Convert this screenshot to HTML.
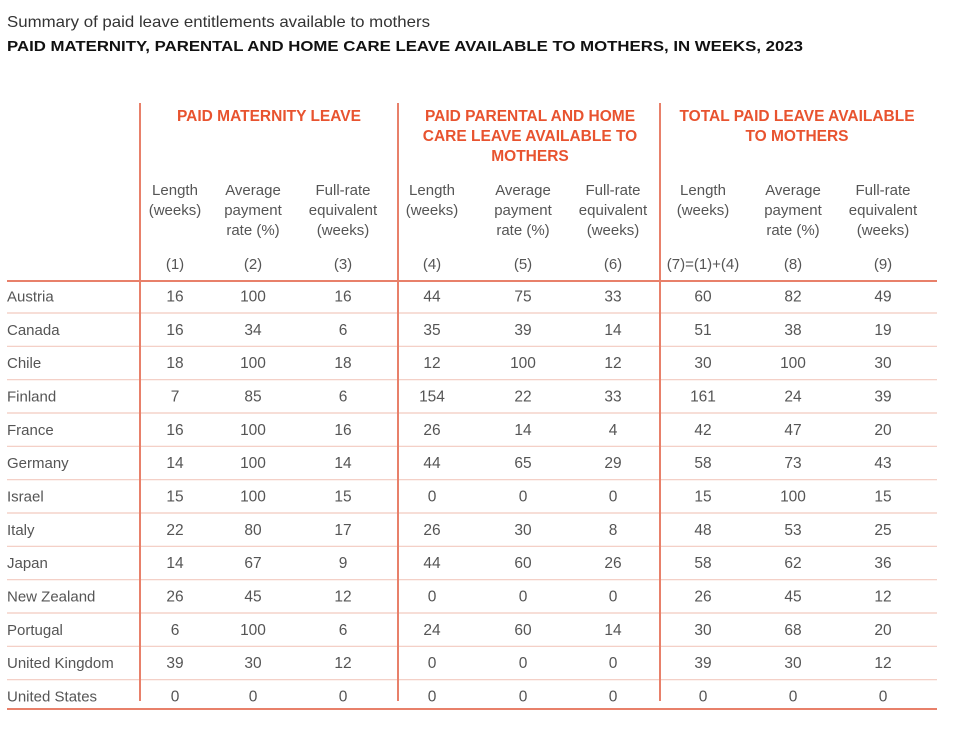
<!DOCTYPE html>
<html><head><meta charset="utf-8"><style>
html,body{margin:0;padding:0;background:#fff;}
svg{display:block;}
text{font-family:"Liberation Sans",sans-serif;}
.h{fill:#e8532f;font-weight:bold;font-size:15.5px;text-anchor:middle;}
.s{fill:#555;font-size:15px;text-anchor:middle;}
.c{fill:#555;font-size:15px;}
.d{fill:#555;font-size:15.5px;text-anchor:middle;}
</style></head><body>
<svg width="967" height="733" xmlns="http://www.w3.org/2000/svg">
<text x="7" y="27" style="font-size:16px;fill:#333" textLength="423" lengthAdjust="spacingAndGlyphs">Summary of paid leave entitlements available to mothers</text>
<text x="7" y="51" style="font-size:15px;fill:#111;font-weight:bold" textLength="796" lengthAdjust="spacingAndGlyphs">PAID MATERNITY, PARENTAL AND HOME CARE LEAVE AVAILABLE TO MOTHERS, IN WEEKS, 2023</text>

<text class="h" x="269" y="121">PAID MATERNITY LEAVE</text>
<text class="h" x="530" y="121">PAID PARENTAL AND HOME</text>
<text class="h" x="530" y="141">CARE LEAVE AVAILABLE TO</text>
<text class="h" x="530" y="161">MOTHERS</text>
<text class="h" x="797" y="121">TOTAL PAID LEAVE AVAILABLE</text>
<text class="h" x="797" y="141">TO MOTHERS</text>

<g id="sub">
<text class="s" x="175" y="195">Length</text><text class="s" x="175" y="215">(weeks)</text>
<text class="s" x="253" y="195">Average</text><text class="s" x="253" y="215">payment</text><text class="s" x="253" y="235">rate (%)</text>
<text class="s" x="343" y="195">Full-rate</text><text class="s" x="343" y="215">equivalent</text><text class="s" x="343" y="235">(weeks)</text>
<text class="s" x="432" y="195">Length</text><text class="s" x="432" y="215">(weeks)</text>
<text class="s" x="523" y="195">Average</text><text class="s" x="523" y="215">payment</text><text class="s" x="523" y="235">rate (%)</text>
<text class="s" x="613" y="195">Full-rate</text><text class="s" x="613" y="215">equivalent</text><text class="s" x="613" y="235">(weeks)</text>
<text class="s" x="703" y="195">Length</text><text class="s" x="703" y="215">(weeks)</text>
<text class="s" x="793" y="195">Average</text><text class="s" x="793" y="215">payment</text><text class="s" x="793" y="235">rate (%)</text>
<text class="s" x="883" y="195">Full-rate</text><text class="s" x="883" y="215">equivalent</text><text class="s" x="883" y="235">(weeks)</text>
<text class="s" x="175" y="269">(1)</text><text class="s" x="253" y="269">(2)</text><text class="s" x="343" y="269">(3)</text>
<text class="s" x="432" y="269">(4)</text><text class="s" x="523" y="269">(5)</text><text class="s" x="613" y="269">(6)</text>
<text class="s" x="703" y="269">(7)=(1)+(4)</text><text class="s" x="793" y="269">(8)</text><text class="s" x="883" y="269">(9)</text>
</g>

<g stroke="#f2c9bf" stroke-width="1.2">
<line x1="7" x2="937" y1="313" y2="313"/><line x1="7" x2="937" y1="346.3" y2="346.3"/>
<line x1="7" x2="937" y1="379.7" y2="379.7"/><line x1="7" x2="937" y1="413" y2="413"/>
<line x1="7" x2="937" y1="446.3" y2="446.3"/><line x1="7" x2="937" y1="479.7" y2="479.7"/>
<line x1="7" x2="937" y1="513" y2="513"/><line x1="7" x2="937" y1="546.3" y2="546.3"/>
<line x1="7" x2="937" y1="579.7" y2="579.7"/><line x1="7" x2="937" y1="613" y2="613"/>
<line x1="7" x2="937" y1="646.3" y2="646.3"/><line x1="7" x2="937" y1="679.7" y2="679.7"/>
</g>
<g stroke="#e8806a" stroke-width="2">
<line x1="7" x2="937" y1="281" y2="281"/>
<line x1="7" x2="937" y1="709" y2="709"/>
<line x1="140" x2="140" y1="103" y2="701"/>
<line x1="398" x2="398" y1="103" y2="701"/>
<line x1="660" x2="660" y1="103" y2="701"/>
</g>

<g id="rows"></g>
</svg>
<script>
var rows=[["Austria",16,100,16,44,75,33,60,82,49],["Canada",16,34,6,35,39,14,51,38,19],["Chile",18,100,18,12,100,12,30,100,30],["Finland",7,85,6,154,22,33,161,24,39],["France",16,100,16,26,14,4,42,47,20],["Germany",14,100,14,44,65,29,58,73,43],["Israel",15,100,15,0,0,0,15,100,15],["Italy",22,80,17,26,30,8,48,53,25],["Japan",14,67,9,44,60,26,58,62,36],["New Zealand",26,45,12,0,0,0,26,45,12],["Portugal",6,100,6,24,60,14,30,68,20],["United Kingdom",39,30,12,0,0,0,39,30,12],["United States",0,0,0,0,0,0,0,0,0]];
var xs=[175,253,343,432,523,613,703,793,883],g=document.getElementById("rows"),ns="http://www.w3.org/2000/svg",h="";
rows.forEach(function(r,i){var y=(296+i*33.33+5.5).toFixed(1);
h+='<text class="c" x="7" y="'+y+'">'+r[0]+'</text>';
for(var j=1;j<10;j++)h+='<text class="d" x="'+xs[j-1]+'" y="'+y+'">'+r[j]+'</text>';});
g.innerHTML=h;
</script>
</body></html>
